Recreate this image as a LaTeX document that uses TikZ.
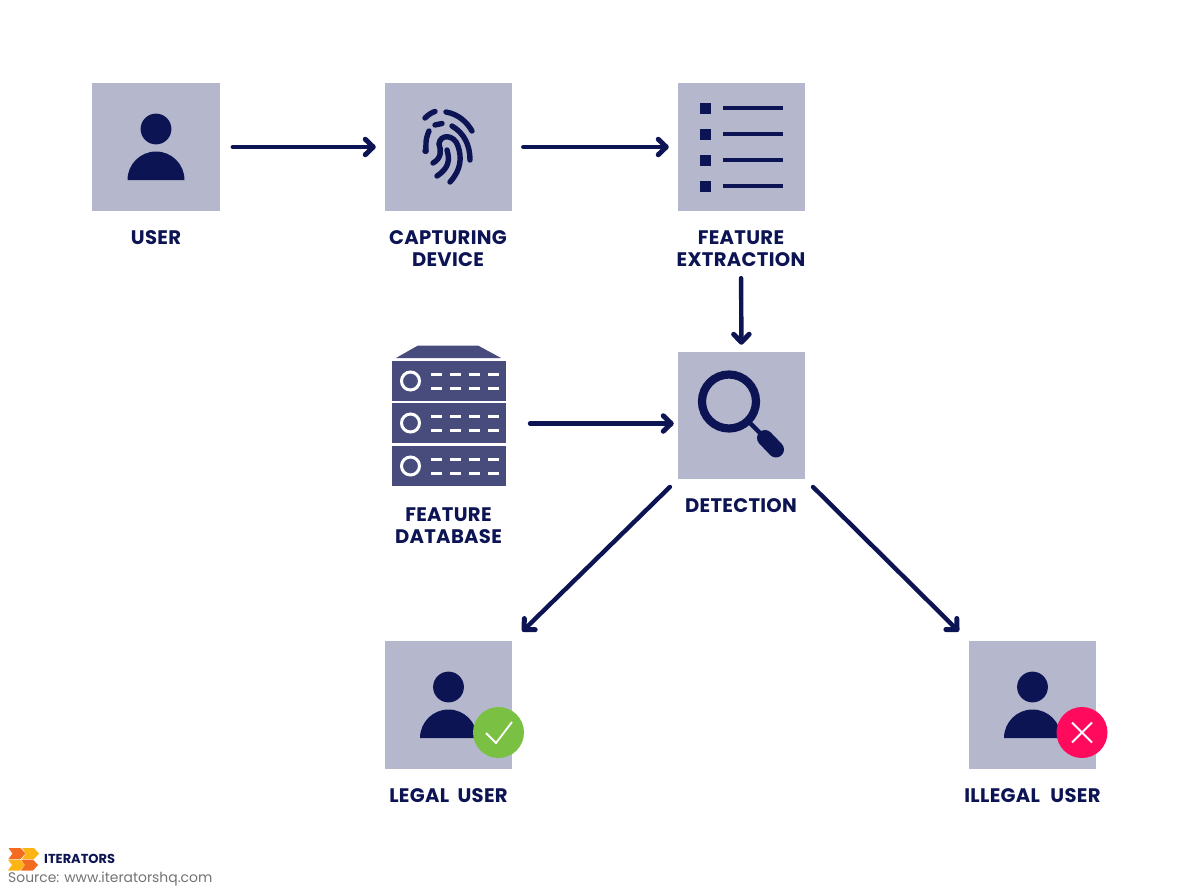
\documentclass[tikz,border=0pt]{standalone}
\usepackage{fontspec}
\setmainfont{Poppins}
\usetikzlibrary{arrows.meta}
\definecolor{navy}{HTML}{0D1454}
\definecolor{tile}{HTML}{B5B8CD}
\definecolor{rack}{HTML}{474C7C}
\definecolor{okgreen}{HTML}{7AC143}
\definecolor{badred}{HTML}{FF0A5C}
\definecolor{srcgrey}{HTML}{737373}
\definecolor{logoA}{HTML}{F26B21}
\definecolor{logoB}{HTML}{FDB515}
\tikzset{
  x=1pt,y=-1pt,
  tilebox/.style={fill=tile,draw=none,minimum size=127.5pt,inner sep=0pt,outer sep=0pt},
  lab/.style={text=navy,font=\fontsize{19.6}{22}\selectfont\bfseries\addfontfeature{LetterSpace=1.5},align=center,inner sep=0pt,anchor=center},
  conn/.style={line width=4.4pt,navy,line cap=round,-{Straight Barb[length=8pt,width=15.5pt,line width=5pt,round]},shorten <=13pt,shorten >=9pt},
  ink/.style={fill=navy,draw=none},
  ridge/.style={draw=navy,line width=5.4pt,line cap=round},
  srv/.style={fill=rack,draw=none},
  slot/.style={draw=white,line width=3pt},
}
\newcommand{\personat}[2]{%
  \fill[navy] (#1,#2-18) circle (15.4);
  \fill[navy] (#1-28.5,#2+33) arc[start angle=180,end angle=360,radius=28.5] -- cycle;
}
\newcommand{\serverat}[1]{%
  \fill[srv] (391.5,#1-20) rectangle (506,#1+20);
  \draw[white,line width=3pt,fill=none] (410.5,#1) circle (9);
  \foreach \xx in {431,450,469,488} {
    \draw[slot] (\xx,#1-7) -- ++(11,0);
    \draw[slot] (\xx,#1+7) -- ++(11,0);
  }
}
\newcommand{\chevat}[3]{%
  \fill[#3] (#1,#2) -- (#1+12,#2) -- (#1+17,#2+5.5) -- (#1+12,#2+11) -- (#1,#2+11) -- (#1+4,#2+5.5) -- cycle;
}
\begin{document}
\begin{tikzpicture}
\useasboundingbox[fill=white] (0,0) rectangle (1200,892);
\node[tilebox] (user) at (156,147) {};
\node[tilebox] (dev) at (448.5,147) {};
\node[tilebox] (fe) at (741.5,147) {};
\node[tilebox] (det) at (741.5,415.5) {};
\node[tilebox] (legal) at (448.5,705) {};
\node[tilebox] (illegal) at (1032.5,705) {};
\node[minimum width=115pt,minimum height=141pt,inner sep=0pt,outer sep=0pt] (db) at (448.5,415.5) {};
% person icons
\personat{156}{147}
\personat{448.5}{705}
\personat{1032.5}{705}
% fingerprint
\draw[ridge] (425,118) .. controls (429,114) and (433,112) .. (435,111.5);
\draw[ridge] (446,112) .. controls (458,114) and (467,122) .. (472,131);
\draw[ridge] (435,125) -- (442,123.5);
\draw[ridge] (452,126) .. controls (464,133) and (470,145) .. (470,160);
\draw[ridge] (429,131) .. controls (425,140) and (426,146) .. (426,151);
\draw[ridge] (425,151) -- (426,151);
\draw[ridge] (433,163) .. controls (442,158) and (441,150) .. (439,144) .. controls (440,134) and (454,134) .. (458,146) .. controls (462,158) and (461,170) .. (450,182);
\draw[ridge] (437,176) .. controls (449,168) and (450,160) .. (447,150);
% list
\foreach \yy in {108,134,160,186} {
  \fill[navy] (699.5,\yy-5.5) rectangle (711,\yy+5.5);
  \draw[navy,line width=4pt] (723,\yy) -- (783,\yy);
}
% server
\fill[srv] (396,358) -- (418,345.5) -- (478,345.5) -- (501,358) -- cycle;
\serverat{381}
\serverat{423}
\serverat{466}
% magnifier
\draw[navy,line width=8.2pt] (729,401.5) circle (27);
\draw[navy,line width=4.5pt] (749,422) -- (764,437);
\draw[navy,line width=16pt,line cap=round] (765,438) -- (776,449.5);
% badges
\fill[okgreen] (498.5,732.5) circle (25.5);
\draw[white,line width=1.8pt] (486,733) -- (496,743) -- (512,722);
\fill[badred] (1082,732.5) circle (25.5);
\draw[white,line width=1.8pt] (1072,722.5) -- (1092,742.5) (1092,722.5) -- (1072,742.5);
% labels
\node[lab] (l1) at (156,238) {USER};
\node[lab] (l2) at (448,249) {CAPTURING\\DEVICE};
\node[lab] (l3) at (741,249) {FEATURE\\EXTRACTION};
\node[lab] (l4) at (741,506) {DETECTION};
\node[lab] (l5) at (448.5,526) {FEATURE\\DATABASE};
\node[lab] (l6) at (448.5,796) {LEGAL\hspace{4pt} USER};
\node[lab] (l7) at (1032.5,796) {ILLEGAL\hspace{6pt} USER};
% connectors
\draw[conn] (user) -- (dev);
\draw[conn,shorten <=11pt] (dev) -- (fe);
\draw[conn,shorten <=11pt,shorten >=7pt] (l3.south) -- (det.north);
\draw[conn,shorten <=24pt,shorten >=4pt] ([yshift=-8pt]db.east) -- ([yshift=-8pt]det.west);
\draw[conn,shorten <=11pt,shorten >=14pt] (det.south west) -- (legal.north east);
\draw[conn,shorten <=11pt,shorten >=14pt] (det.south east) -- (illegal.north west);
% logo
\chevat{22}{848}{logoB}
\chevat{8}{859.5}{logoB}
\chevat{8.5}{848}{logoA}
\chevat{21}{859.5}{logoA}
\node[text=navy,font=\fontsize{13}{14}\selectfont\bfseries,anchor=west,inner sep=0pt] (logo) at (44,859) {ITERATORS};
\node[text=srcgrey,font=\fontsize{13.9}{15}\selectfont,anchor=west,inner sep=0pt] (src) at (8,879) {Source: www.iteratorshq.com};
\end{tikzpicture}
\end{document}
